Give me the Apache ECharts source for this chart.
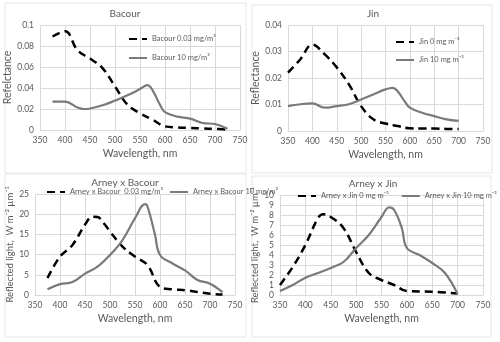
<!DOCTYPE html>
<html>
<head>
<meta charset="utf-8">
<script src="https://cdn.jsdelivr.net/npm/echarts@6/dist/echarts.min.js"></script>
<style>
  html, body { margin: 0; padding: 0; background: #fff; }
  #main { width: 500px; height: 342px; }
</style>
</head>
<body>
<div id="main"></div>
<script>
// wavelengths (nm)
var wlBacour = [375, 400, 425, 450, 475, 500, 525, 550, 575, 600, 625, 650, 675, 700, 725];
var wlBacourFine = [375, 400, 425, 437, 450, 475, 500, 525, 550, 565, 575, 590, 600, 625, 650, 675, 700, 725];
var wlJin = [350, 375, 400, 425, 450, 475, 500, 525, 550, 575, 600, 625, 650, 675, 700];
var wlJinFine = [350, 375, 400, 425, 450, 475, 500, 525, 550, 565, 575, 590, 600, 625, 650, 675, 700];
var wlArneyB = [375, 400, 425, 450, 465, 475, 490, 500, 525, 550, 575, 600, 625, 650, 675, 700, 725];
var wlArneyB10 = [375, 400, 425, 450, 475, 500, 525, 550, 570, 575, 590, 600, 625, 650, 675, 700, 725];
var wlArneyJ0 = [350, 375, 400, 425, 435, 450, 475, 500, 525, 550, 575, 600, 650, 700];
var wlArneyJ10 = [350, 375, 400, 425, 450, 475, 500, 525, 550, 565, 575, 590, 600, 625, 650, 675, 700];

// reflectance values
var bacour003 = [0.089, 0.094, 0.076, 0.068, 0.059, 0.0415, 0.024, 0.016, 0.0098, 0.0035, 0.0025, 0.002, 0.0015, 0.001, 0.0005];
var bacour10 = [0.027, 0.027, 0.0215, 0.020, 0.0205, 0.0235, 0.028, 0.033, 0.039, 0.0428, 0.038, 0.024, 0.017, 0.0127, 0.0108, 0.0067, 0.0057, 0.0013];
var jin0 = [0.022, 0.027, 0.0326, 0.029, 0.024, 0.0176, 0.0094, 0.0044, 0.0028, 0.0019, 0.001, 0.0009, 0.0009, 0.0008, 0.0008];
var jin10 = [0.0094, 0.0101, 0.0104, 0.0088, 0.0094, 0.0101, 0.0119, 0.0138, 0.0157, 0.0163, 0.015, 0.011, 0.0088, 0.0069, 0.0056, 0.0044, 0.0038];

// reflected light values (W m-2 um-1)
var arneyB003 = [4.2, 9.5, 12.4, 17.4, 19.4, 19.3, 17.4, 15.7, 12, 9.5, 7.4, 2.0, 1.4, 1.2, 0.75, 0.3, 0.15];
var arneyB10 = [1.4, 2.7, 3.2, 5.3, 7, 9.9, 13.6, 19, 22.5, 21.9, 14.9, 9.9, 7.8, 6.1, 3.7, 2.8, 0.7];
var arneyJ0 = [1.0, 2.8, 5.0, 7.7, 8.07, 7.8, 6.7, 4.3, 2.2, 1.5, 1.0, 0.4, 0.33, 0.15];
var arneyJ10 = [0.4, 1.0, 1.73, 2.2, 2.7, 3.3, 4.7, 6.0, 7.8, 8.77, 8.5, 6.7, 4.7, 4.0, 3.2, 2.2, 0.1];

function pairs(xs, ys) {
  return xs.map(function (x, i) { return [x, ys[i]]; });
}

var FONT = 'Lato';
var TXT = '#595959';
var GRID = '#d9d9d9';

function xAx(idx, min, max) {
  return {
    gridIndex: idx, type: 'value', min: min, max: max, interval: 50,
    name: 'Wavelength, nm', nameLocation: 'middle', nameGap: 18,
    nameTextStyle: { color: TXT, fontFamily: FONT, fontSize: 10.5 },
    axisLine: { show: true, lineStyle: { color: GRID } },
    axisTick: { show: false },
    axisLabel: { color: TXT, fontFamily: FONT, fontSize: 8.5, margin: 6 },
    splitLine: { show: true, lineStyle: { color: GRID, width: 1 } }
  };
}
function yAx(idx, max, interval, name, gap, nameSize) {
  return {
    gridIndex: idx, type: 'value', min: 0, max: max, interval: interval,
    name: name, nameLocation: 'middle', nameGap: gap, nameRotate: 90,
    nameTextStyle: { color: TXT, fontFamily: FONT, fontSize: nameSize },
    axisLine: { show: false },
    axisTick: { show: false },
    axisLabel: { color: TXT, fontFamily: FONT, fontSize: 8.5, margin: 6 },
    splitLine: { show: true, lineStyle: { color: GRID, width: 1 } }
  };
}
function dashed(name, idx, data) {
  return {
    name: name, type: 'line', xAxisIndex: idx, yAxisIndex: idx,
    data: data, smooth: 0.4, symbol: 'none',
    itemStyle: { color: '#000' },
    lineStyle: { color: '#000', width: 2.5, type: [8, 5] }
  };
}
function solid(name, idx, data) {
  return {
    name: name, type: 'line', xAxisIndex: idx, yAxisIndex: idx,
    data: data, smooth: 0.4, symbol: 'none',
    itemStyle: { color: '#7a7a7a' },
    lineStyle: { color: '#7a7a7a', width: 2.2 }
  };
}
function ttl(text, x, y) {
  return { text: text, left: x, top: y, textAlign: 'center', padding: 0,
    textStyle: { color: TXT, fontFamily: FONT, fontSize: 10, fontWeight: 'normal' } };
}
function leg(names, left, top, orient, gap) {
  return { data: names, left: left, top: top, orient: orient, itemGap: gap,
    itemWidth: 18, itemHeight: 8, padding: 0,
    itemStyle: { opacity: 0 },
    textStyle: { color: TXT, fontFamily: FONT, fontSize: 7.5 } };
}

var n1 = 'Bacour 0.03 mg/m\u00b3', n2 = 'Bacour 10 mg/m\u00b3';
var n3 = 'Jin 0 mg m\u207b\u00b3', n4 = 'Jin 10 mg m\u207b\u00b3';
var n5 = 'Arney x Bacour  0.03 mg/m\u00b3', n6 = 'Arney x Bacour 10 mg/m\u00b3';
var n7 = 'Arney x Jin 0 mg m\u207b\u00b3', n8 = 'Arney x Jin 10 mg m\u207b\u00b3';
var yLight = 'Reflected light,  W m\u207b\u00b2 \u00b5m\u207b\u00b9';

var chart = echarts.init(document.getElementById('main'), null, { renderer: 'canvas' });
chart.setOption({
  backgroundColor: '#fff',
  animation: false,
  graphic: [
    { type: 'rect', shape: { x: 5, y: 3, width: 241, height: 170 }, style: { fill: 'none', stroke: '#e6e6e6', lineWidth: 1 } },
    { type: 'rect', shape: { x: 252, y: 5, width: 240, height: 168 }, style: { fill: 'none', stroke: '#e6e6e6', lineWidth: 1 } },
    { type: 'rect', shape: { x: 5, y: 174, width: 241, height: 163 }, style: { fill: 'none', stroke: '#e6e6e6', lineWidth: 1 } },
    { type: 'rect', shape: { x: 252, y: 176, width: 239, height: 161 }, style: { fill: 'none', stroke: '#e6e6e6', lineWidth: 1 } }
  ],
  title: [
    ttl('Bacour', 125, 9),
    ttl('Jin', 373, 9),
    ttl('Arney x Bacour', 125, 178),
    ttl('Arney x Jin', 373, 179)
  ],
  legend: [
    leg([n1, n2], 128, 35, 'vertical', 11),
    leg([n3, n4], 395, 38, 'vertical', 10),
    leg([n5, n6], 46, 188, 'horizontal', 6),
    leg([n7, n8], 297, 192, 'horizontal', 12)
  ],
  grid: [
    { left: 40, top: 25, width: 200, height: 105 },
    { left: 288, top: 25, width: 195, height: 106 },
    { left: 35, top: 194, width: 200, height: 101 },
    { left: 280, top: 195, width: 203, height: 100 }
  ],
  xAxis: [xAx(0, 350, 750), xAx(1, 350, 750), xAx(2, 350, 750), xAx(3, 350, 750)],
  yAxis: [
    yAx(0, 0.1, 0.02, 'Refelctance', 25, 10.5),
    yAx(1, 0.04, 0.01, 'Reflectance', 25, 10.5),
    yAx(2, 25, 5, yLight, 19, 9.5),
    yAx(3, 10, 1, yLight, 15, 9.5)
  ],
  series: [
    dashed(n1, 0, pairs(wlBacour, bacour003)),
    solid(n2, 0, pairs(wlBacourFine, bacour10)),
    dashed(n3, 1, pairs(wlJin, jin0)),
    solid(n4, 1, pairs(wlJinFine, jin10)),
    dashed(n5, 2, pairs(wlArneyB, arneyB003)),
    solid(n6, 2, pairs(wlArneyB10, arneyB10)),
    dashed(n7, 3, pairs(wlArneyJ0, arneyJ0)),
    solid(n8, 3, pairs(wlArneyJ10, arneyJ10))
  ]
});
</script>
</body>
</html>
